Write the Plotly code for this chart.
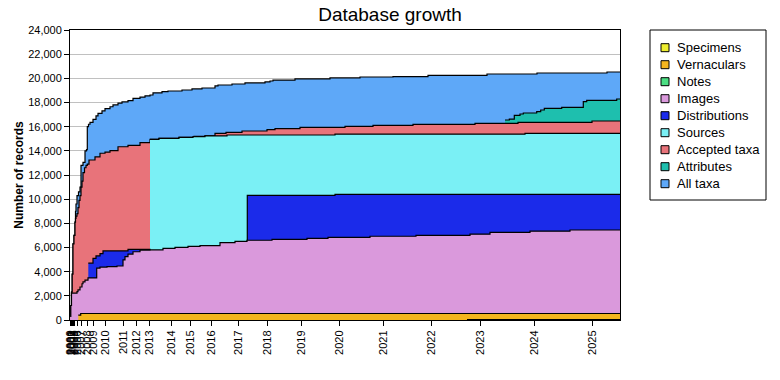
import plotly.graph_objects as go

# ---------------- data (x = position along the update axis, 0..110) ----------------
year_ticks_pos = [0.06, 0.2, 0.36, 0.52, 0.68, 0.9, 1.4, 2.3, 3.4, 4.7, 7.0, 10.6, 13.2,
                  15.86, 20.2, 24.14, 28.26, 33.66, 39.54, 46.2, 53.86, 62.74, 72.34,
                  82.06, 92.86, 104.46]
year_ticks_text = ["2000", "2001", "2002", "2003", "2004", "2005", "2006", "2007", "2008",
                   "2009", "2010", "2011", "2012", "2013", "2014", "2015", "2016", "2017",
                   "2018", "2019", "2020", "2021", "2022", "2023", "2024", "2025"]

all_taxa_x = [0.04, 0.16, 0.3, 0.44, 0.6, 0.8, 1.0, 1.1, 1.2, 1.4, 1.7, 2.0, 2.2, 2.6, 3.0,
              3.3, 3.46, 3.7, 4.0, 4.6, 5.2, 5.6, 6.4, 7.0, 8.0, 8.6, 9.6, 10.4, 11.6, 12.6,
              14.0, 15.0, 16.0, 16.6, 18.4, 19.6, 22.4, 24.4, 26.4, 29.0, 29.6, 32.4, 35.0,
              39.0, 40.0, 40.6, 45.0, 52.0, 58.0, 64.6, 71.6, 83.4, 93.4, 107.4, 110]
all_taxa_y = [300, 1200, 2300, 3800, 6300, 7000, 8100, 9000, 9600, 10300, 10600, 11000,
              12800, 13050, 14000, 14100, 16000, 16200, 16350, 16600, 16900, 17100, 17300,
              17500, 17650, 17800, 17950, 18050, 18150, 18340, 18450, 18550, 18620, 18800,
              18900, 18950, 19035, 19120, 19200, 19370, 19450, 19530, 19620, 19700, 19780,
              19860, 19950, 20030, 20110, 20135, 20250, 20360, 20440, 20525, 20525]

attributes_x = [87.0, 87.86, 88.86, 90.0, 90.66, 93.34, 94.14, 94.86, 98.34, 102.66,
                103.34, 109.34, 110]
attributes_y = [16550, 16630, 16940, 17050, 17130, 17240, 17380, 17520, 17600, 18070,
                18180, 18290, 18290]

accepted_x = [0.04, 0.16, 0.3, 0.44, 0.6, 0.8, 1.0, 1.1, 1.2, 1.4, 1.6, 1.8, 2.0, 2.2, 2.4,
              2.6, 2.9, 3.2, 3.46, 3.8, 5.0, 6.0, 7.0, 8.0, 9.6, 11.6, 14.0, 16.0, 17.8,
              21.8, 24.8, 27.0, 29.0, 31.2, 34.4, 39.4, 41.0, 46.0, 55.0, 60.6, 68.6, 81.0,
              89.6, 104.4, 110]
accepted_y = [300, 1200, 2300, 3800, 6300, 7000, 8100, 8400, 8600, 8800, 9300, 9900, 10300,
              11000, 11500, 12200, 12600, 12800, 12900, 13240, 13500, 13800, 13900, 14010,
              14340, 14460, 14680, 14950, 15030, 15120, 15200, 15250, 15450, 15530, 15640,
              15750, 15830, 15940, 16030, 16110, 16190, 16280, 16360, 16470, 16470]

sources_x = [16.0, 17.8, 21.8, 24.6, 27.0, 31.4, 53.0, 91.0, 110]
sources_y = [14950, 15030, 15120, 15170, 15230, 15310, 15380, 15450, 15450]

distributions_x = [3.66, 4.6, 5.2, 6.0, 6.6, 11.6, 16.0, 16.0, 35.46, 53.0, 110]
distributions_y = [4700, 5100, 5300, 5500, 5720, 5850, 5850, 0, 10320, 10400, 10400]

images_x = [0.04, 0.16, 0.3, 1.4, 1.6, 2.0, 2.4, 2.6, 3.0, 3.6, 5.34, 6.0, 7.4, 9.4, 10.6,
            11.0, 11.6, 12.6, 14.0, 16.0, 18.6, 21.0, 23.6, 26.0, 30.0, 33.0, 35.4, 40.4,
            47.4, 51.6, 60.0, 69.2, 80.0, 84.0, 92.0, 100.0, 110]
images_y = [300, 1200, 2230, 2350, 2500, 2730, 3000, 3150, 3300, 3480, 4300, 4380, 4410,
            4470, 4970, 5240, 5460, 5650, 5790, 5800, 5930, 6015, 6100, 6150, 6400, 6510,
            6600, 6680, 6760, 6840, 6930, 7010, 7100, 7250, 7350, 7450, 7450]

notes_x = [6.0, 110]
notes_y = [250, 250]

vernaculars_x = [1.66, 2.14, 110]
vernaculars_y = [410, 540, 540]

specimens_x = [79.4, 110]
specimens_y = [40, 40]

# drawing order: back to front
series_names = ["All taxa", "Attributes", "Accepted taxa", "Sources", "Distributions",
                "Images", "Notes", "Vernaculars", "Specimens"]
series_x = [all_taxa_x, attributes_x, accepted_x, sources_x, distributions_x, images_x,
            notes_x, vernaculars_x, specimens_x]
series_y = [all_taxa_y, attributes_y, accepted_y, sources_y, distributions_y, images_y,
            notes_y, vernaculars_y, specimens_y]
series_colors = ["#5EA8F8", "#1EBFAE", "#E8737A", "#7AF0F5", "#1B2BEA", "#DA99DC",
                 "#4BDE82", "#F4B51E", "#EEEE30"]

# ---------------- figure ----------------
FONT = "Liberation Sans, Arial, sans-serif"
W, H = 780, 380
PL, PR, PT, PB = 70, 620, 30, 320

fig = go.Figure()
for name, xs, ys, col in zip(series_names, series_x, series_y, series_colors):
    fig.add_trace(go.Scatter(
        x=xs, y=ys, name=name, mode="lines", line_shape="hv",
        line=dict(color="black", width=1.2),
        fill="tozeroy", fillcolor=col, showlegend=False,
        hoverinfo="skip"))

def px2x(px):
    return (px - PL) / (PR - PL)

def py2y(py):
    return (PB - py) / (PB - PT)

shapes = [dict(type="rect", xref="paper", yref="paper",
               x0=px2x(650), x1=px2x(766), y0=py2y(200), y1=py2y(30),
               line=dict(color="black", width=1), fillcolor="white", layer="above")]
annotations = []
legend_order = list(reversed(series_names))
legend_cols = list(reversed(series_colors))
for i, (name, col) in enumerate(zip(legend_order, legend_cols)):
    cy = 47.7 + 17 * i
    shapes.append(dict(type="rect", xref="paper", yref="paper",
                       x0=px2x(661), x1=px2x(669), y0=py2y(cy + 4), y1=py2y(cy - 4),
                       line=dict(color="black", width=1), fillcolor=col, layer="above"))
    annotations.append(dict(xref="paper", yref="paper", x=px2x(675), y=py2y(cy),
                            xanchor="left", yanchor="middle", showarrow=False,
                            text=name, font=dict(family=FONT, size=13, color="black")))

fig.update_layout(
    width=W, height=H,
    margin=dict(l=PL, r=W - PR, t=PT, b=H - PB, pad=0),
    paper_bgcolor="white", plot_bgcolor="white",
    title=dict(text="Database growth", xref="container", yref="container",
               x=0.5, y=1 - 14 / H, xanchor="center", yanchor="middle",
               font=dict(family=FONT, size=19, color="black")),
    showlegend=False,
    shapes=shapes, annotations=annotations,
    xaxis=dict(range=[0, 110], tickmode="array", tickvals=year_ticks_pos,
               ticktext=year_ticks_text, tickangle=-90, ticks="outside", ticklen=5,
               tickcolor="black", showgrid=False, zeroline=False, showline=True,
               linecolor="black", linewidth=1, mirror=True,
               tickfont=dict(family=FONT, size=11, color="black")),
    yaxis=dict(range=[0, 24000], dtick=2000, tickformat=",d", ticks="outside",
               ticklen=5, tickcolor="black", showgrid=True, gridcolor="#C0C0C0",
               gridwidth=1, zeroline=False, showline=True, linecolor="black",
               linewidth=1, mirror=True,
               tickfont=dict(family=FONT, size=11, color="black"),
               title=dict(text="Number of records", standoff=1,
                          font=dict(family=FONT, size=12, color="black", weight="bold"))),
)

fig.write_html("out.html", config={"displayModeBar": False},
               post_script="document.body.style.margin='0';document.body.style.padding='0';")
